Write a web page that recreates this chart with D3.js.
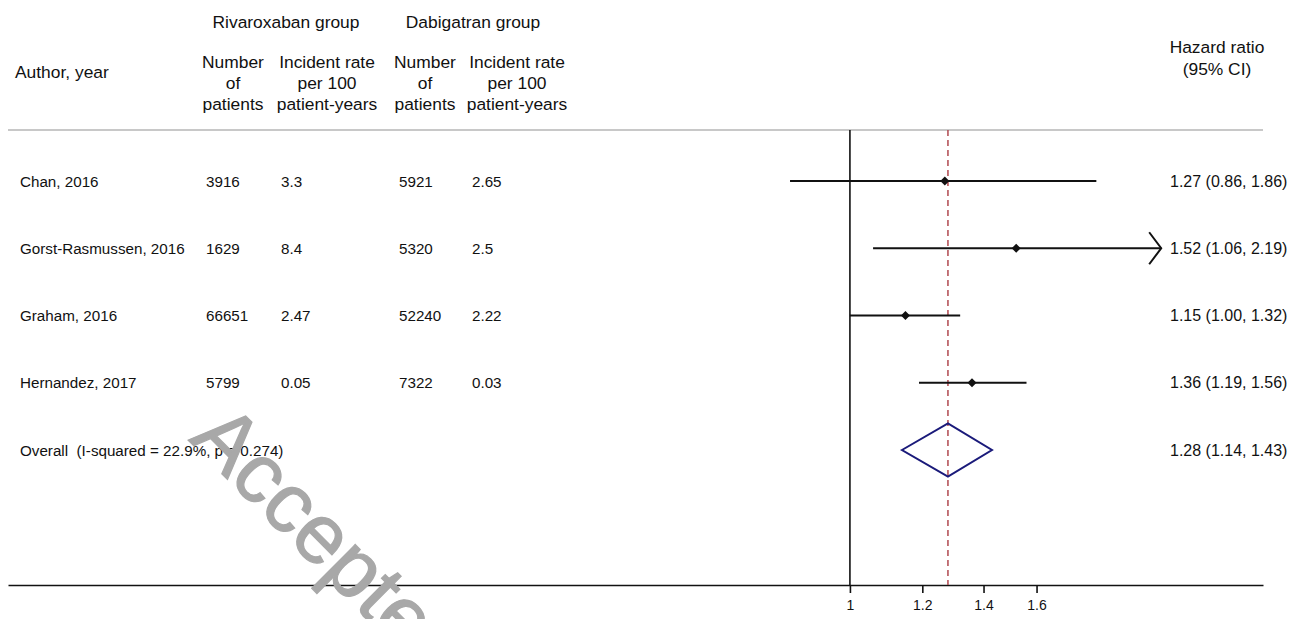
<!DOCTYPE html>
<html><head><meta charset="utf-8">
<script src="https://cdn.jsdelivr.net/npm/d3@7/dist/d3.min.js"></script>
<style>body{margin:0;background:#fff}svg{display:block}text{font-family:"Liberation Sans",Arial,sans-serif;fill:#111;white-space:pre}</style>
</head><body>
<svg id="c" width="1307" height="619"></svg>
<script>
const studies = ["Chan, 2016","Gorst-Rasmussen, 2016","Graham, 2016","Hernandez, 2017"];
const rivaN = ["3916","1629","66651","5799"];
const rivaRate = ["3.3","8.4","2.47","0.05"];
const dabiN = ["5921","5320","52240","7322"];
const dabiRate = ["2.65","2.5","2.22","0.03"];
const hr = [1.27,1.52,1.15,1.36];
const lo = [0.86,1.06,1.00,1.19];
const hi = [1.86,2.19,1.32,1.56];
const arrowRight = [false,true,false,false];
const overallLabel = "Overall  (I-squared = 22.9%, p = 0.274)";
const overallHR = [1.28, 1.14, 1.43];
const tickVals = [1,1.2,1.4,1.6];

const svg = d3.select("#c");
const x = d3.scaleLog().domain([0.12,2.83]).range([8,1263]);
const y = d3.scaleLinear().domain([0,4]).range([181,450]);
const fmt = v => v.toFixed(2);

// header
const hdr = svg.append("g").style("font-size","17.4px");
hdr.append("text").attr("x",15).attr("y",78).text("Author, year");
hdr.append("text").attr("x",286).attr("y",28).attr("text-anchor","middle").text("Rivaroxaban group");
hdr.append("text").attr("x",473).attr("y",28).attr("text-anchor","middle").text("Dabigatran group");
function stack(cx, lines){
  lines.forEach((l,i)=>hdr.append("text").attr("x",cx).attr("y",68+i*21).attr("text-anchor","middle").text(l));
}
stack(233,["Number","of","patients"]);
stack(327,["Incident rate","per 100","patient-years"]);
stack(425,["Number","of","patients"]);
stack(517,["Incident rate","per 100","patient-years"]);
hdr.append("text").attr("x",1217).attr("y",53).attr("text-anchor","middle").text("Hazard ratio");
hdr.append("text").attr("x",1217).attr("y",75).attr("text-anchor","middle").text("(95% CI)");

// separator
svg.append("line").attr("x1",8).attr("x2",1263).attr("y1",130).attr("y2",130).attr("stroke","#c8c8c8").attr("stroke-width",1.8);

// axis
const axis = d3.axisBottom(x).tickValues(tickVals).tickFormat(d=>String(d)).tickSize(8).tickSizeOuter(0);
const ag = svg.append("g").attr("transform","translate(0,585)").call(axis)
  .attr("font-size",14).attr("font-family","Liberation Sans, Arial, sans-serif");
ag.select(".domain").attr("stroke","#111").attr("stroke-width",1.6);
ag.selectAll(".tick line").attr("stroke","#111").attr("stroke-width",1.6);
ag.selectAll(".tick text").attr("y",13).attr("dy","0.85em").style("font-size","14px");

// null line
svg.append("line").attr("x1",x(1)).attr("x2",x(1)).attr("y1",130).attr("y2",585).attr("stroke","#111").attr("stroke-width",1.6);
// overall dashed
svg.append("line").attr("x1",x(overallHR[0])).attr("x2",x(overallHR[0])).attr("y1",130).attr("y2",585)
  .attr("stroke","#b0484f").attr("stroke-width",1.5).attr("stroke-dasharray","6,4");

// rows
const rows = svg.append("g").style("font-size","15.2px");
const hrTxt = svg.append("g").style("font-size","16px");
studies.forEach((s,i)=>{
  const yy = y(i);
  rows.append("text").attr("x",20).attr("y",yy+5.5).text(s);
  rows.append("text").attr("x",206).attr("y",yy+5.5).text(rivaN[i]);
  rows.append("text").attr("x",281).attr("y",yy+5.5).text(rivaRate[i]);
  rows.append("text").attr("x",399).attr("y",yy+5.5).text(dabiN[i]);
  rows.append("text").attr("x",472).attr("y",yy+5.5).text(dabiRate[i]);
  hrTxt.append("text").attr("x",1170).attr("y",yy+5.5).text(`${fmt(hr[i])} (${fmt(lo[i])}, ${fmt(hi[i])})`);
  svg.append("line").attr("x1",x(lo[i])).attr("x2",x(hi[i])).attr("y1",yy).attr("y2",yy).attr("stroke","#111").attr("stroke-width",2);
  if(arrowRight[i]){
    const tx = x(hi[i]);
    svg.append("path").attr("d",`M${tx-12},${yy-16}L${tx},${yy}L${tx-12},${yy+16}`).attr("fill","none").attr("stroke","#111").attr("stroke-width",2);
  }
  const px = x(hr[i]), r=4.5;
  svg.append("path").attr("d",`M${px},${yy-r}L${px+r},${yy}L${px},${yy+r}L${px-r},${yy}Z`).attr("fill","#111");
});
// overall
const oy = y(4);
rows.append("text").attr("x",20).attr("y",oy+5.5).text(overallLabel);
hrTxt.append("text").attr("x",1170).attr("y",oy+5.5).text(`${fmt(overallHR[0])} (${fmt(overallHR[1])}, ${fmt(overallHR[2])})`);
svg.append("path").attr("d",`M${x(overallHR[1])},${oy}L${x(overallHR[0])},${oy-26.5}L${x(overallHR[2])},${oy}L${x(overallHR[0])},${oy+26.5}Z`)
  .attr("fill","none").attr("stroke","#1a1a7a").attr("stroke-width",2);

// watermark
svg.append("text").attr("transform","translate(188,440) rotate(45)").style("font-size","84px")
  .style("fill","#a8a8a8").style("stroke","#a8a8a8").style("stroke-width","1.2px").text("Accepted");
</script>
</body></html>
